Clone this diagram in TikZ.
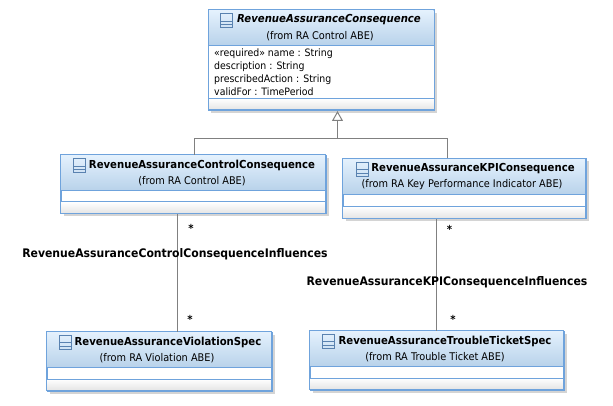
\documentclass[tikz,border=0pt]{standalone}
\usepackage{fontspec}
\setmainfont{DejaVu Sans}[FakeStretch=0.92]
\usetikzlibrary{arrows.meta}
\definecolor{umlblue}{HTML}{6FA3DC}
\definecolor{umltop}{HTML}{E4F1FD}
\definecolor{umlbot}{HTML}{B8D2EA}
\definecolor{umlline}{HTML}{808080}
\definecolor{umlshadow}{HTML}{D4D4D4}
\tikzset{
  classbox/.style={rectangle,draw=umlblue,line width=1pt,fill=white,inner sep=0pt,anchor=north west},
  titletext/.style={font=\fontsize{11pt}{13pt}\selectfont\bfseries,inner sep=0pt,text=black},
  subtext/.style={font=\fontsize{10.6pt}{12pt}\selectfont,inner sep=0pt,text=black},
  attrtext/.style={font=\fontsize{10.2pt}{12pt}\selectfont,inner sep=0pt,anchor=base west,text=black},
  multtext/.style={font=\fontsize{11pt}{13pt}\selectfont\bfseries,inner sep=0pt,text=black},
  assoctext/.style={font=\fontsize{11.8pt}{13pt}\selectfont\bfseries,inner sep=0pt,text=black},
  connector/.style={draw=umlline,line width=1pt},
  dividerline/.style={draw=umlblue,line width=1pt},
  iconline/.style={draw=umlblue!80!black,line width=0.9pt},
}
% name, x1, y1, x2, y2, header bottom y, divider y, icon x
\newcommand{\umlclass}[8]{%
  \fill[umlshadow] (#2+3,#3+3) rectangle (#4+3,#5+3);
  \node[classbox,minimum width=#4pt-#2pt,minimum height=#5pt-#3pt] (#1) at (#2,#3) {};
  \shade[top color=umltop,bottom color=umlbot] (#2+0.5,#3+0.5) rectangle (#4-0.5,#6);
  \shade[top color=white,bottom color=umlshadow!60] (#2+0.5,#7) rectangle (#4-0.5,#5-0.5);
  \draw[dividerline] (#2,#6) -- (#4,#6);
  \draw[dividerline] (#2,#7) -- (#4,#7);
  \draw[dividerline] (#2,#3) rectangle (#4,#5);
  \draw[iconline] (#8,#3+3.5) rectangle (#8+12,#3+17.5);
  \draw[iconline] (#8,#3+11) -- (#8+12,#3+11);
  \draw[iconline] (#8,#3+14.5) -- (#8+12,#3+14.5);
}
\begin{document}
\begin{tikzpicture}[x=1pt,y=-1pt]
\useasboundingbox[fill=white] (0,0) rectangle (613,406);

\umlclass{top}{208}{10}{434}{110}{45.5}{98.5}{220}
\umlclass{ctl}{60.5}{155}{325.5}{213.5}{190.5}{202}{73}
\umlclass{kpi}{342.5}{158.5}{585.5}{218.5}{194.5}{206.5}{356}
\umlclass{vio}{46.5}{331.5}{271.5}{390.5}{367.5}{379}{59}
\umlclass{tro}{309.5}{330.5}{563.5}{389.5}{366.5}{378}{322}

\node[titletext,font=\fontsize{11pt}{13pt}\selectfont\bfseries\itshape] (toptitle) at (329,20) {RevenueAssuranceConsequence};
\node[subtext] (topsub) at (320,36) {(from RA Control ABE)};
\node[attrtext] (a1) at (214,57) {«required» name : String};
\node[attrtext] (a2) at (214,70) {description : String};
\node[attrtext] (a3) at (214,83) {prescribedAction : String};
\node[attrtext] (a4) at (214,95.5) {validFor : TimePeriod};

\node[titletext] (ctltitle) at (202,165) {RevenueAssuranceControlConsequence};
\node[subtext] (ctlsub) at (192,181) {(from RA Control ABE)};
\node[titletext] (kpititle) at (473,169) {RevenueAssuranceKPIConsequence};
\node[subtext] (kpisub) at (462,185) {(from RA Key Performance Indicator ABE)};
\node[titletext] (viotitle) at (168,342) {RevenueAssuranceViolationSpec};
\node[subtext] (viosub) at (157,358) {(from RA Violation ABE)};
\node[titletext] (trotitle) at (445,341) {RevenueAssuranceTroubleTicketSpec};
\node[subtext] (trosub) at (435,357) {(from RA Trouble Ticket ABE)};

% generalisations
\coordinate (junction) at (337.5,139);
\draw[connector,-{Triangle[open,fill=white,length=10pt,width=11pt]}] (junction) -- (top.south -| junction);
\draw[connector] ([xshift=0.5pt]ctl.north) |- (junction);
\draw[connector] ([xshift=-17pt]kpi.north) |- (junction);

% associations
\draw[connector] ([xshift=-16.5pt]ctl.south) -- ([xshift=17.5pt]vio.north);
\draw[connector] ([xshift=-28pt]kpi.south) -- ([xshift=-0.5pt]tro.north);

\node[assoctext] (ctlassoc) at (175,254) {RevenueAssuranceControlConsequenceInfluences};
\node[assoctext] (kpiassoc) at (447,282) {RevenueAssuranceKPIConsequenceInfluences};
\node[multtext] (m1) at (191,228) {*};
\node[multtext] (m2) at (190,319) {*};
\node[multtext] (m3) at (449.5,229) {*};
\node[multtext] (m4) at (453,319) {*};
\end{tikzpicture}
\end{document}
